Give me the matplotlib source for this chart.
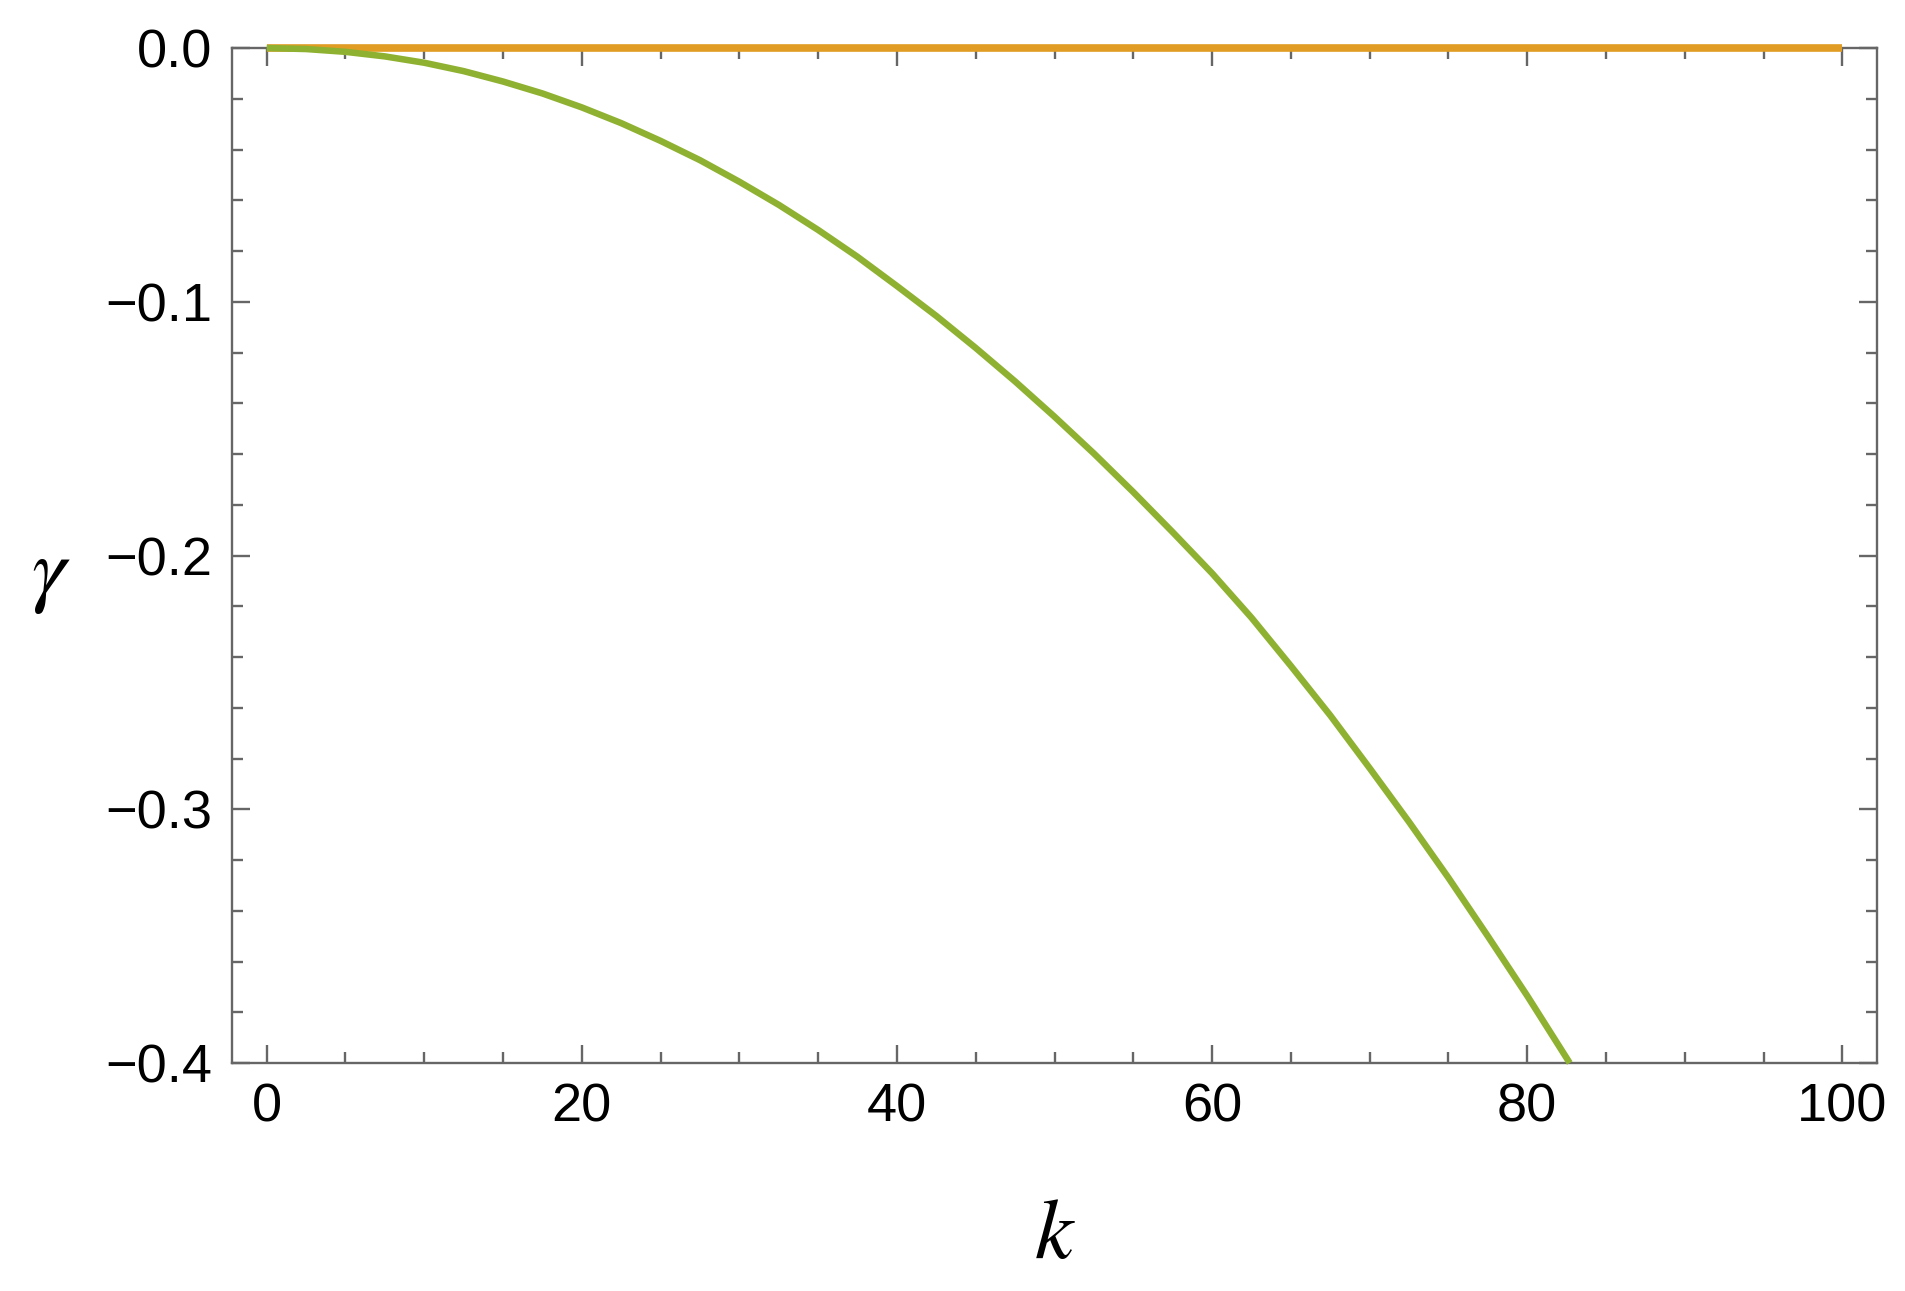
import numpy as np
import matplotlib
matplotlib.use('Agg')
from matplotlib import pyplot as plt
from matplotlib.ticker import MultipleLocator

# curve values
k_green = [0, 2.5, 5, 7.5, 10, 12.5, 15, 17.5, 20, 22.5, 25, 27.5, 30, 32.5, 35, 37.5,
           40, 42.5, 45, 47.5, 50, 52.5, 55, 57.5, 60, 62.5, 65, 67.5, 70, 72.5, 75,
           77.5, 80, 82.7]
g_green = [0.0, -0.0004, -0.0015, -0.0033, -0.0058, -0.0091, -0.0132, -0.0179, -0.0234,
           -0.0296, -0.0366, -0.0442, -0.0527, -0.0618, -0.0717, -0.0823, -0.0938,
           -0.1056, -0.1182, -0.1314, -0.1453, -0.1598, -0.1750, -0.1908, -0.2070,
           -0.2245, -0.2435, -0.2630, -0.2838, -0.3050, -0.3270, -0.3500, -0.3735, -0.4000]
k_orange = [0, 100]
g_orange = [0.0, 0.0]

GREEN = '#8FB131'
ORANGE = '#E19C24'
FRAME = '#666666'

plt.rcParams['mathtext.fontset'] = 'stix'

fig = plt.figure(figsize=(19.05, 12.91), dpi=100, facecolor='white')
ax = fig.add_axes([0.1218, 0.1766, 0.8635, 0.7862])

ax.plot(k_orange, g_orange, color=ORANGE, lw=5.5, clip_on=False, zorder=5, solid_capstyle='butt')
ax.plot(k_green, g_green, color=GREEN, lw=4.7, clip_on=False, zorder=6, solid_capstyle='butt')

ax.set_xlim(-2.2, 102.2)
ax.set_ylim(-0.4, 0.0)

ax.xaxis.set_major_locator(MultipleLocator(20))
ax.xaxis.set_minor_locator(MultipleLocator(5))
ax.yaxis.set_major_locator(MultipleLocator(0.1))
ax.yaxis.set_minor_locator(MultipleLocator(0.02))
ax.yaxis.set_major_formatter(plt.FuncFormatter(lambda v, p: f'{v:.1f}'.replace('-', '\u2212') if abs(v) > 1e-9 else '0.0'))

for s in ax.spines.values():
    s.set_color(FRAME)
    s.set_linewidth(1.7)

ax.tick_params(which='both', direction='in', top=True, right=True, color=FRAME, width=1.7,
               labelsize=39, labelcolor='black')
ax.tick_params(which='major', length=13)
ax.tick_params(which='minor', length=8)
ax.tick_params(axis='y', which='major', pad=14)
ax.tick_params(axis='x', which='major', pad=14)
for lab in ax.get_xticklabels() + ax.get_yticklabels():
    lab.set_family('Liberation Sans')

ax.set_xlabel('$k$', fontsize=62)
ax.xaxis.set_label_coords(0.5, -0.169)
ax.xaxis.label.set_va('center')
ax.set_ylabel(r'$\gamma$', fontsize=62, rotation=0)
ax.yaxis.set_label_coords(-0.110, 0.481)
ax.yaxis.label.set_va('center')
ax.yaxis.label.set_ha('center')

fig.savefig('out.png', dpi=100, facecolor='white')
